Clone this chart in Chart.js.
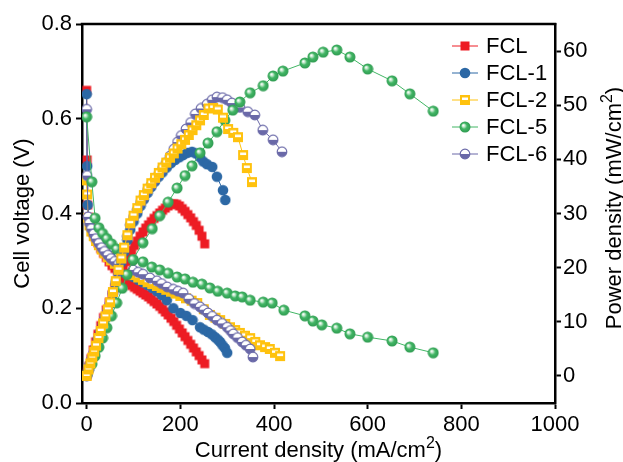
<!DOCTYPE html>
<html>
<head>
<meta charset="utf-8">
<title>Polarization and power density curves</title>
<script src="https://cdn.jsdelivr.net/npm/chart.js@4.4.1/dist/chart.umd.min.js"></script>
<style>
  html, body { margin: 0; background: #fff; }
</style>
</head>
<body>
<canvas id="myChart" width="623" height="462"></canvas>
<script>
// series names, same order as the legend
const seriesNames = ['FCL', 'FCL-1', 'FCL-2', 'FCL-5', 'FCL-6'];

// FCL
const fclCurrent = [0, 1, 2, 5, 9, 14, 19, 24, 30, 36, 42, 48, 54, 60, 66, 72, 78, 84, 90, 96, 102, 108, 114, 120, 126, 132, 138, 144, 150, 156, 162, 168, 174, 180, 186, 192, 198, 204, 210, 216, 222, 228, 234, 240, 246, 252];
const fclVoltage = [0.66, 0.513, 0.418, 0.392, 0.375, 0.36, 0.348, 0.338, 0.326, 0.316, 0.307, 0.298, 0.29, 0.284, 0.278, 0.272, 0.265, 0.259, 0.253, 0.248, 0.244, 0.24, 0.236, 0.232, 0.228, 0.224, 0.219, 0.214, 0.209, 0.204, 0.198, 0.192, 0.186, 0.179, 0.172, 0.164, 0.156, 0.148, 0.14, 0.132, 0.124, 0.116, 0.108, 0.1, 0.091, 0.083];
const fclPower = [0, 0.4, 0.8, 1.8, 3.2, 4.8, 6.3, 7.7, 9.3, 10.8, 12.2, 13.6, 15, 16.3, 17.6, 18.8, 20, 21.1, 22.2, 23.2, 24.1, 24.9, 25.8, 26.6, 27.3, 27.9, 28.5, 29.1, 29.6, 30.1, 30.6, 31.0, 31.4, 31.7, 31.8, 31.7, 31.4, 30.9, 30.4, 29.8, 29.2, 28.5, 27.8, 26.9, 25.8, 24.4];

// FCL-1
const fcl1CurrentV = [0, 1, 2, 6, 12, 20, 30, 40, 50, 60, 70, 80, 90, 100, 110, 120, 130, 140, 150, 160, 171, 185, 200, 213, 226, 242, 250, 259, 267, 274, 280, 285, 290, 295, 300];
const fcl1Voltage = [0.652, 0.50, 0.418, 0.39, 0.365, 0.35, 0.335, 0.322, 0.311, 0.3, 0.29, 0.281, 0.273, 0.266, 0.26, 0.255, 0.249, 0.243, 0.236, 0.228, 0.217, 0.2, 0.19, 0.184, 0.175, 0.16, 0.155, 0.15, 0.145, 0.139, 0.134, 0.129, 0.122, 0.116, 0.106];
const fcl1CurrentP = [0, 4, 8, 12, 16, 20, 25, 30, 35, 40, 45, 50, 56, 62, 68, 74, 80, 87, 93, 100, 108, 115, 122, 130, 138, 146, 154, 162, 171, 180, 189, 198, 206, 215, 225, 233, 242, 249, 257, 268, 278, 291, 296];
const fcl1Power = [0, 1.1, 2.2, 3.3, 4.4, 5.4, 6.8, 8.1, 9.4, 10.7, 12, 13.3, 15.1, 17, 19, 21, 22.9, 25.1, 27, 28.5, 30, 31.4, 32.6, 33.8, 34.9, 35.9, 36.8, 37.6, 38.5, 39.3, 39.9, 40.4, 40.8, 41.2, 41.4, 41.1, 40.4, 39.6, 39.1, 38.6, 36.8, 34.3, 32.5];

// FCL-2
const fcl2CurrentV = [0, 1, 3, 6, 10, 15, 20, 26, 32, 38, 45, 52, 60, 68, 76, 84, 92, 100, 110, 120, 130, 140, 150, 160, 170, 180, 190, 200, 212, 224, 236, 250, 263, 275, 285, 296, 306, 317, 327, 338, 349, 360, 370, 381, 391, 402, 413];
const fcl2Voltage = [0.47, 0.44, 0.39, 0.375, 0.362, 0.352, 0.342, 0.333, 0.324, 0.316, 0.308, 0.301, 0.294, 0.288, 0.283, 0.278, 0.274, 0.27, 0.265, 0.26, 0.255, 0.251, 0.247, 0.243, 0.239, 0.235, 0.231, 0.226, 0.221, 0.216, 0.211, 0.198, 0.186, 0.18, 0.175, 0.167, 0.16, 0.154, 0.148, 0.142, 0.137, 0.129, 0.122, 0.118, 0.114, 0.106, 0.099];
const fcl2CurrentP = [0, 4, 8, 12, 16, 20, 25, 30, 35, 40, 45, 50, 56, 62, 68, 74, 80, 87, 93, 100, 108, 115, 122, 130, 138, 146, 154, 162, 170, 178, 186, 194, 202, 210, 218, 226, 234, 242, 250, 260, 270, 280, 291, 302, 313, 323, 334, 342, 353];
const fcl2Power = [0, 1.2, 2.3, 3.4, 4.5, 5.6, 7, 8.3, 9.7, 11, 12.3, 13.6, 15.5, 17.5, 19.6, 21.7, 23.7, 26, 28.2, 29.6, 31, 32.4, 33.4, 34.6, 35.6, 36.6, 37.5, 38.5, 39.4, 40.3, 41.1, 42, 42.8, 43.6, 44.5, 45.4, 46.3, 47.2, 48.2, 49.4, 49.5, 49.2, 47.7, 45.6, 44.9, 44.1, 40.8, 38.4, 35.8];

// FCL-5
const fcl5CurrentV = [0, 11, 18, 26, 34, 43, 53, 64, 76, 88, 99, 120, 139, 156, 174, 193, 210, 227, 246, 263, 280, 300, 317, 332, 349, 377, 396, 421, 466, 483, 502, 534, 562, 600, 652, 690, 740];
const fcl5Voltage = [0.604, 0.467, 0.39, 0.37, 0.358, 0.347, 0.336, 0.325, 0.316, 0.308, 0.302, 0.298, 0.287, 0.281, 0.274, 0.266, 0.262, 0.255, 0.251, 0.243, 0.236, 0.232, 0.226, 0.224, 0.217, 0.213, 0.211, 0.196, 0.184, 0.173, 0.165, 0.158, 0.146, 0.139, 0.131, 0.118, 0.106];
const fcl5CurrentP = [0, 11, 18, 26, 34, 43, 53, 64, 76, 86, 99, 120, 140, 156, 174, 193, 210, 225, 242, 259, 278, 295, 312, 327, 349, 377, 398, 419, 466, 483, 505, 534, 562, 600, 652, 690, 740];
const fcl5Power = [0.3, 2.2, 3.7, 5.3, 7, 8.9, 11.1, 13.5, 16.2, 18.7, 21.5, 24.6, 27.2, 29.6, 32.1, 34.7, 37, 38.8, 41.2, 43, 45.1, 47.2, 49.1, 50.6, 52.3, 53.6, 55.4, 56.3, 57.8, 58.9, 59.8, 60.2, 58.9, 56.7, 54.5, 52.1, 48.9];

// FCL-6
const fcl6CurrentV = [0, 1, 3, 6, 10, 15, 20, 26, 32, 38, 45, 52, 60, 68, 76, 84, 92, 99, 110, 120, 135, 150, 160, 172, 185, 195, 206, 218, 230, 242, 250, 259, 268, 278, 289, 300, 307, 313, 322, 332, 340, 349, 355];
const fcl6Voltage = [0.62, 0.48, 0.393, 0.38, 0.368, 0.357, 0.347, 0.337, 0.328, 0.32, 0.312, 0.305, 0.299, 0.294, 0.289, 0.285, 0.283, 0.281, 0.276, 0.272, 0.264, 0.258, 0.252, 0.245, 0.24, 0.236, 0.232, 0.22, 0.21, 0.203, 0.197, 0.19, 0.183, 0.175, 0.168, 0.16, 0.153, 0.146, 0.138, 0.129, 0.122, 0.114, 0.097];
const fcl6CurrentP = [0, 4, 8, 12, 16, 20, 25, 30, 35, 40, 45, 50, 56, 62, 68, 74, 80, 87, 93, 100, 108, 115, 122, 130, 138, 146, 154, 162, 170, 178, 186, 194, 202, 212, 222, 232, 244, 257, 268, 278, 290, 300, 310, 327, 344, 359, 376, 398, 417];
const fcl6Power = [0, 1.1, 2.2, 3.3, 4.4, 5.5, 6.9, 8.2, 9.6, 10.9, 12.2, 13.5, 15.4, 17.4, 19.4, 21.5, 23.5, 25.8, 27.9, 29.3, 30.7, 32, 33.1, 34.3, 35.3, 36.3, 37.3, 38.3, 39.4, 40.6, 41.9, 43.2, 44.4, 45.6, 46.8, 48.4, 49.4, 50.2, 51, 51.5, 51.4, 51, 50.4, 49.6, 48.8, 48.2, 45.4, 43.6, 41.4];

// axis ticks
const currentTicks = [0, 200, 400, 600, 800, 1000];
const voltageTicks = [0, 0.2, 0.4, 0.6, 0.8];
const powerTicks = [0, 10, 20, 30, 40, 50, 60];

const FONT = '"Liberation Sans", Arial, sans-serif';
Chart.defaults.font.family = FONT;
Chart.defaults.color = '#000';

const colors = {
  red: '#ED1C24',
  blue: '#2C68A5',
  yellow: '#FFC20E',
  green: '#42B665',
  purple: '#6A69A8'
};

// little canvases used as point markers
function makeMarker(kind, color) {
  const size = 12;
  const c = document.createElement('canvas');
  c.width = size;
  c.height = size;
  const g = c.getContext('2d');
  const m = size / 2;
  if (kind === 'square') {
    g.fillStyle = color;
    g.fillRect(1.5, 1.5, 9, 9);
  } else if (kind === 'circle') {
    g.fillStyle = color;
    g.beginPath();
    g.arc(m, m, 5.3, 0, Math.PI * 2);
    g.fill();
  } else if (kind === 'halfSquare') {
    g.fillStyle = color;
    g.fillRect(1, 1, 10, 10);
    g.fillStyle = '#fff';
    g.fillRect(3, 3.5, 6, 2.5);
  } else if (kind === 'ball') {
    const grad = g.createRadialGradient(m - 1.8, m - 1.8, 0.3, m, m, 5.6);
    grad.addColorStop(0, '#ffffff');
    grad.addColorStop(0.22, '#bfe6c9');
    grad.addColorStop(0.5, color);
    grad.addColorStop(1, '#2E9A50');
    g.fillStyle = grad;
    g.beginPath();
    g.arc(m, m, 5.5, 0, Math.PI * 2);
    g.fill();
  } else if (kind === 'halfCircle') {
    g.fillStyle = '#fff';
    g.beginPath();
    g.arc(m, m, 4.8, Math.PI, 0);
    g.fill();
    g.fillStyle = color;
    g.beginPath();
    g.arc(m, m, 4.8, 0, Math.PI);
    g.fill();
    g.strokeStyle = color;
    g.lineWidth = 1.2;
    g.beginPath();
    g.arc(m, m, 4.8, 0, Math.PI * 2);
    g.stroke();
  }
  return c;
}

const markers = [
  makeMarker('square', colors.red),
  makeMarker('circle', colors.blue),
  makeMarker('halfSquare', colors.yellow),
  makeMarker('ball', colors.green),
  makeMarker('halfCircle', colors.purple)
];
const lineColors = [colors.red, colors.blue, colors.yellow, colors.green, colors.purple];

function toPoints(xs, ys) {
  return xs.map((x, i) => ({ x: x, y: ys[i] }));
}

function curve(label, idx, xs, ys, axis) {
  return {
    label: label,
    data: toPoints(xs, ys),
    yAxisID: axis,
    showLine: true,
    borderColor: lineColors[idx],
    borderWidth: 1,
    pointStyle: markers[idx],
    pointRadius: 5,
    pointHoverRadius: 5,
    tension: 0
  };
}

// first dataset ends up drawn on top
const datasets = [
  curve('FCL-2', 2, fcl2CurrentP, fcl2Power, 'y1'),
  curve('FCL-5', 3, fcl5CurrentP, fcl5Power, 'y1'),
  curve('FCL-6', 4, fcl6CurrentP, fcl6Power, 'y1'),
  curve('FCL-1', 1, fcl1CurrentP, fcl1Power, 'y1'),
  curve('FCL', 0, fclCurrent, fclPower, 'y1'),
  curve('FCL-5', 3, fcl5CurrentV, fcl5Voltage, 'y'),
  curve('FCL-6', 4, fcl6CurrentV, fcl6Voltage, 'y'),
  curve('FCL-2', 2, fcl2CurrentV, fcl2Voltage, 'y'),
  curve('FCL-1', 1, fcl1CurrentV, fcl1Voltage, 'y'),
  curve('FCL', 0, fclCurrent, fclVoltage, 'y')
];

function drawLabel(ctx, main, sup, tail, x, y, rotate) {
  ctx.save();
  ctx.translate(x, y);
  if (rotate) ctx.rotate(-Math.PI / 2);
  ctx.fillStyle = '#000';
  ctx.textAlign = 'left';
  ctx.textBaseline = 'alphabetic';
  ctx.font = '22px ' + FONT;
  const w1 = ctx.measureText(main).width;
  const w3 = ctx.measureText(tail).width;
  ctx.font = '16px ' + FONT;
  const w2 = ctx.measureText(sup).width;
  let cx = -(w1 + w2 + w3) / 2;
  ctx.font = '22px ' + FONT;
  ctx.fillText(main, cx, 0);
  cx += w1;
  ctx.font = '16px ' + FONT;
  ctx.fillText(sup, cx, -9);
  cx += w2;
  ctx.font = '22px ' + FONT;
  ctx.fillText(tail, cx, 0);
  ctx.restore();
}

const decorations = {
  id: 'decorations',
  afterDraw(chart) {
    const ctx = chart.ctx;
    const a = chart.chartArea;

    // top edge of the frame
    ctx.save();
    ctx.strokeStyle = '#000';
    ctx.lineWidth = 2.5;
    ctx.beginPath();
    ctx.moveTo(a.left - 1.25, a.top);
    ctx.lineTo(a.right + 1.25, a.top);
    ctx.stroke();
    ctx.restore();

    // axis titles
    drawLabel(ctx, 'Current density (mA/cm', '2', ')', (a.left + a.right) / 2, 457, false);
    drawLabel(ctx, 'Cell voltage (V)', '', '', 29, (a.top + a.bottom) / 2, true);
    drawLabel(ctx, 'Power density (mW/cm', '2', ')', 621, 208, true);

    // legend
    ctx.save();
    ctx.font = '22px ' + FONT;
    ctx.textBaseline = 'middle';
    ctx.fillStyle = '#000';
    seriesNames.forEach((name, i) => {
      const y = 46 + i * 27;
      ctx.strokeStyle = lineColors[i];
      ctx.lineWidth = 1;
      ctx.beginPath();
      ctx.moveTo(452, y);
      ctx.lineTo(478, y);
      ctx.stroke();
      const mk = markers[i];
      ctx.drawImage(mk, 465 - mk.width / 2, y - mk.height / 2);
      ctx.fillText(name, 486, y + 1);
    });
    ctx.restore();
  }
};

const ctx = document.getElementById('myChart');

const myChart = new Chart(ctx, {
  type: 'scatter',
  data: { datasets: datasets },
  options: {
    responsive: false,
    animation: false,
    layout: { padding: { top: 24, left: 0, right: 0, bottom: 0 } },
    plugins: {
      legend: { display: false },
      tooltip: { enabled: false }
    },
    scales: {
      x: {
        type: 'linear',
        min: -10,
        max: 1000,
        afterBuildTicks: (scale) => { scale.ticks = currentTicks.map(v => ({ value: v })); },
        afterFit: (scale) => { scale.height = 59; },
        ticks: { font: { size: 22 }, padding: 3, callback: (v) => String(v), maxRotation: 0 },
        grid: { drawOnChartArea: false, tickLength: 6, tickColor: '#000', tickWidth: 2 },
        border: { color: '#000', width: 2.5 }
      },
      y: {
        position: 'left',
        min: 0,
        max: 0.8,
        afterBuildTicks: (scale) => { scale.ticks = voltageTicks.map(v => ({ value: v })); },
        afterFit: (scale) => { scale.width = 82; },
        ticks: { font: { size: 22 }, padding: 4, callback: (v) => v.toFixed(1) },
        grid: { drawOnChartArea: false, tickLength: 6, tickColor: '#000', tickWidth: 2 },
        border: { color: '#000', width: 2.5 }
      },
      y1: {
        position: 'right',
        min: -5,
        max: 65,
        afterBuildTicks: (scale) => { scale.ticks = powerTicks.map(v => ({ value: v })); },
        afterFit: (scale) => { scale.width = 68; },
        ticks: { font: { size: 22 }, padding: 2, callback: (v) => String(v) },
        grid: { drawOnChartArea: false, tickLength: 6, tickColor: '#000', tickWidth: 2 },
        border: { color: '#000', width: 2.5 }
      }
    }
  },
  plugins: [decorations]
});
</script>
</body>
</html>
